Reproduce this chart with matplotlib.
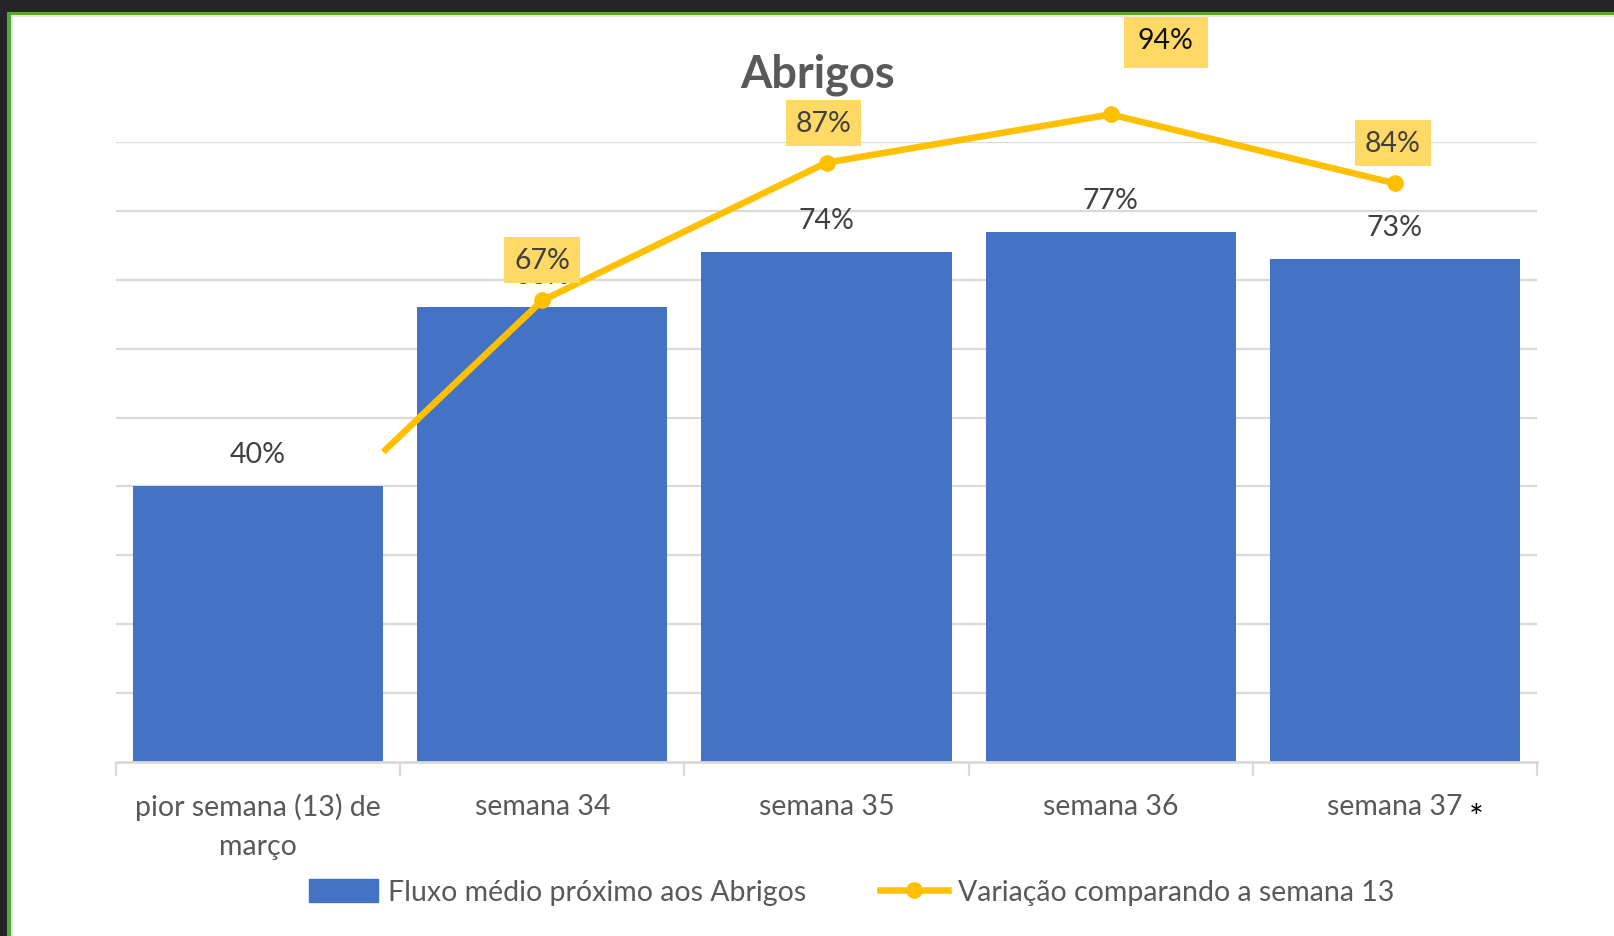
import numpy as np
import matplotlib.pyplot as plt
from matplotlib.patches import Rectangle, Patch
from matplotlib.lines import Line2D

plt.rcParams['font.family'] = ['Lato', 'DejaVu Sans']

categorias = ['pior semana (13) de\nmarço', 'semana 34', 'semana 35', 'semana 36', 'semana 37']
fluxo = [40, 66, 74, 77, 73]
linha_x = [0.44, 1, 2, 3, 4]
variacao = [45, 67, 87, 94, 84]

azul = '#4472C4'
amarelo = '#FFC000'
caixa = '#FFD966'
cinza_txt = '#595959'
cinza_lbl = '#404040'

fig = plt.figure(figsize=(16.15, 9.37), dpi=100)
W, H = 1615, 937

# moldura da captura de tela
fig.add_artist(Rectangle((0, 1 - 13 / H), 1, 13 / H, transform=fig.transFigure, fc='#252528', ec='none'))
fig.add_artist(Rectangle((0, 0), 7 / W, 1, transform=fig.transFigure, fc='#252528', ec='none'))
fig.add_artist(Rectangle((7 / W, 0), 4 / W, 1 - 13 / H, transform=fig.transFigure, fc='#55AA33', ec='none'))
fig.add_artist(Rectangle((7 / W, 1 - 16 / H), 1, 3 / H, transform=fig.transFigure, fc='#55AA33', ec='none'))
fig.add_artist(Rectangle((11 / W, 1 - 18 / H), 1, 2 / H, transform=fig.transFigure, fc='#E6E6E6', ec='none'))
fig.add_artist(Rectangle((11 / W, 0), 2 / W, 1 - 18 / H, transform=fig.transFigure, fc='#E6E6E6', ec='none'))

ax = fig.add_axes([116 / W, (H - 763) / H, (1537 - 116) / W, (763 - 143) / H])
x = np.arange(len(categorias))

fs = 20.5
bars = ax.bar(x, fluxo, width=0.88, color=azul, zorder=2)
for xi, v in zip(x, fluxo):
    ax.annotate(f'{v}%', (xi, v), xytext=(0, 32), textcoords='offset pixels',
                ha='center', va='center', fontsize=fs, color=cinza_lbl, zorder=3)

ax.plot(linha_x, variacao, color=amarelo, lw=4.7, marker='o', markersize=11,
        markevery=[1, 2, 3, 4], solid_capstyle='butt', zorder=4, clip_on=False)

offsets = [None, (0, 40), (-3, 40), (55, 74), (-2, 40)]
for xi, v, off in zip(linha_x, variacao, offsets):
    if off is None:
        continue
    ax.annotate(f'{v}%', (xi, v), xytext=off, textcoords='offset pixels',
                ha='center', va='center', fontsize=fs,
                color='#111111' if v == 94 else cinza_lbl, zorder=5,
                bbox=dict(boxstyle='square,pad=0.35' if v != 94 else 'square,pad=0.5',
                          fc=caixa, ec='none'),
                annotation_clip=False)

ax.set_xlim(-0.5, 4.5)
ax.set_ylim(0, 90)
ax.set_yticks(np.arange(10, 91, 10))
ax.yaxis.grid(True, color='#D9D9D9', lw=1.6, zorder=0)
ax.tick_params(axis='y', length=0, labelleft=False)
ax.set_xticks(x)
ax.set_xticklabels(categorias, fontsize=fs, color=cinza_txt, linespacing=1.6)
ax.tick_params(axis='x', length=0, pad=22)
ax.set_xticks(np.arange(-0.5, 5, 1), minor=True)
ax.tick_params(axis='x', which='minor', length=10, width=1.6, color='#D9D9D9')
for s in ['top', 'right', 'left']:
    ax.spines[s].set_visible(False)
ax.spines['bottom'].set_color('#D9D9D9')
ax.spines['bottom'].set_linewidth(2)

ax.annotate('*', (4, 0), xytext=(81, -56), textcoords='offset pixels',
            ha='center', va='center', fontsize=25, color='black', annotation_clip=False)

fig.text(818 / W, 1 - 75 / H, 'Abrigos', ha='center', va='center',
         fontsize=32.5, fontweight='bold', color=cinza_txt)

handles = [Patch(color=azul),
           Line2D([0], [0], color=amarelo, lw=4.7, marker='o', markersize=11)]
fig.legend(handles, ['Fluxo médio próximo aos Abrigos', 'Variação comparando a semana 13'],
           loc='center', bbox_to_anchor=(852 / W, 1 - 893 / H), ncol=2, frameon=False,
           fontsize=fs, labelcolor=cinza_txt, handlelength=2.4, handleheight=0.85,
           handletextpad=0.35, columnspacing=2.6)

fig.savefig('out.png', dpi=100)
